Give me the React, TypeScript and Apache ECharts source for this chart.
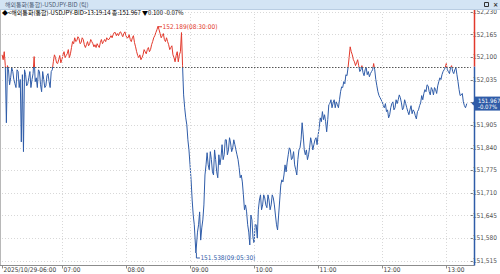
import React, { useEffect, useRef } from "react";
import * as echarts from "echarts";

const TITLE = "해외통화(통합)-USDJPY-BID (틱)";
const HEADER_MAIN = "◆<해외통화(통합)-USDJPY-BID>13:19:14 종:151.967 ";
const HEADER_CHANGE = "▼0.100 -0.07%";
const LAST_PRICE = 151.967;
const LAST_PCT = "-0.07%";
const PREV_CLOSE = 152.073;

const Y_MIN = 151.515;
const Y_MAX = 152.23;
const Y_STEP = 0.065;

const AXIS_START = "06:03:54";
const AXIS_END = "13:23:00";
const FIRST_LABEL = "2025/10/29-06:00";
const HOUR_TICKS = ["07:00", "08:00", "09:00", "10:00", "11:00", "12:00", "13:00"];

// ticks read on even minutes (plus the extremes and the last tick)
const TIMES = [
  "06:04","06:06","06:08","06:10","06:12","06:14","06:16","06:18","06:20","06:22",
  "06:24","06:26","06:28","06:30","06:32","06:34","06:36","06:38","06:40","06:42",
  "06:44","06:46","06:48","06:50","06:52","06:54","06:56","06:58","07:00","07:02",
  "07:04","07:06","07:08","07:10","07:12","07:14","07:16","07:18","07:20","07:22",
  "07:24","07:26","07:28","07:30","07:32","07:34","07:36","07:38","07:40","07:42",
  "07:44","07:46","07:48","07:50","07:52","07:54","07:56","07:58","08:00","08:02",
  "08:04","08:06","08:08","08:10","08:12","08:14","08:16","08:18","08:20","08:22",
  "08:24","08:26","08:28","08:30","08:32","08:34","08:36","08:38","08:40","08:42",
  "08:44","08:46","08:48","08:50","08:52","08:54","08:56","08:58","09:00","09:02",
  "09:04",
  "09:05:30",
  "09:08","09:10","09:12","09:14","09:16","09:18","09:20","09:22","09:24","09:26",
  "09:28","09:30","09:32","09:34","09:36","09:38","09:40","09:42","09:44","09:46",
  "09:48","09:50","09:52","09:54","09:56","09:58","10:00","10:02","10:04","10:06",
  "10:08","10:10","10:12","10:14","10:16","10:18","10:20","10:22","10:24","10:26",
  "10:28","10:30","10:32","10:34","10:36","10:38","10:40","10:42","10:44",
  "10:45",
  "10:46","10:48","10:50","10:52","10:54","10:56","10:58","11:00","11:02","11:04",
  "11:06","11:08","11:10","11:12","11:14","11:16","11:18","11:20","11:22","11:24",
  "11:26","11:28","11:30","11:32","11:34","11:36","11:38","11:40","11:42","11:44",
  "11:46","11:48","11:50","11:52","11:54","11:56","11:58","12:00","12:02","12:04",
  "12:06","12:08","12:10","12:12","12:14","12:16","12:18","12:20","12:22","12:24",
  "12:26","12:28","12:30","12:32","12:34","12:36","12:38","12:40","12:42","12:44",
  "12:46","12:48","12:50","12:52","12:54","12:56","12:58","13:00","13:02","13:04",
  "13:06","13:08","13:10","13:12","13:14","13:16","13:18",
  "13:19:14",
];

const PRICES = [
  152.107,152.116,151.912,152.064,152.041,152.059,152.024,152.064,152.013,151.857,
  151.829,152.050,152.024,152.059,152.036,152.102,152.041,152.064,152.021,152.059,
  152.013,152.047,152.030,152.059,152.087,152.099,152.082,152.105,152.093,152.116,
  152.105,152.122,152.110,152.145,152.156,152.148,152.154,152.142,152.151,152.128,
  152.145,152.139,152.145,152.130,152.128,152.133,152.142,152.139,152.151,152.156,
  152.151,152.162,152.165,152.171,152.168,152.171,152.165,152.168,152.162,152.156,
  152.151,152.156,152.142,152.116,152.099,152.093,152.107,152.116,152.122,152.116,
  152.136,152.156,152.171,152.189,152.168,152.162,152.151,152.156,152.136,152.128,
  152.107,152.087,152.116,152.107,152.171,151.992,151.926,151.863,151.791,151.690,
  151.619,
  151.538,
  151.619,151.575,151.633,151.762,151.826,151.777,151.806,151.762,151.806,151.754,
  151.791,151.849,151.820,151.863,151.834,151.854,151.840,151.849,151.820,151.783,
  151.762,151.705,151.676,151.619,151.561,151.633,151.567,151.619,151.662,151.705,
  151.676,151.696,151.668,151.690,151.676,151.696,151.647,151.604,151.690,151.748,
  151.762,151.771,151.820,151.834,151.811,151.791,151.762,151.834,151.863,
  151.912,
  151.877,151.820,151.806,151.840,151.854,151.849,151.869,151.877,151.926,151.944,
  151.935,151.886,151.964,151.978,151.969,151.955,151.964,151.978,152.015,152.030,
  152.050,152.070,152.130,152.107,152.087,152.084,152.076,152.064,152.056,152.064,
  152.050,152.044,152.059,152.082,152.036,152.001,151.984,151.972,151.955,151.944,
  151.926,151.955,151.972,151.955,151.967,151.992,151.969,151.955,151.967,151.944,
  151.949,151.938,151.944,151.923,151.949,151.969,151.978,152.007,152.021,152.001,
  152.013,151.992,152.007,152.018,152.041,152.050,152.064,152.082,152.059,152.070,
  152.059,152.064,152.050,152.007,151.992,151.972,151.955,
  151.967,
];

// ticks read on odd minutes (the other edge of the noisy band)
const MID_TIMES = [
  "06:05","06:07","06:09","06:11","06:13","06:15","06:17","06:19","06:21","06:23",
  "06:25","06:27","06:29","06:31","06:33","06:35","06:37","06:39","06:41","06:43",
  "06:45","06:47","06:49","06:51","06:53","06:55","06:57","06:59","07:01","07:03",
  "07:05","07:07","07:09","07:11","07:13","07:15","07:17","07:19","07:21","07:23",
  "07:25","07:27","07:29","07:31","07:33","07:35","07:37","07:39","07:41","07:43",
  "07:45","07:47","07:49","07:51","07:53","07:55","07:57","07:59","08:01","08:03",
  "08:05","08:07","08:09","08:11","08:13","08:15","08:17","08:19","08:21","08:23",
  "08:25","08:27","08:29","08:31","08:33","08:35","08:37","08:39","08:41","08:43",
  "08:45","08:47","08:49","08:51","08:53","08:55","08:57","08:59","09:01","09:03",
  "09:07","09:09","09:11","09:13","09:15","09:17","09:19","09:21","09:23","09:25",
  "09:27","09:29","09:31","09:33","09:35","09:37","09:39","09:41","09:43","09:45",
  "09:47","09:49","09:51","09:53","09:55","09:57","09:59","10:01","10:03","10:05",
  "10:07","10:09","10:11","10:13","10:15","10:17","10:19","10:21","10:23","10:25",
  "10:27","10:29","10:31","10:33","10:35","10:37","10:39","10:41","10:43",
  "10:47","10:49","10:51","10:53","10:55","10:57","10:59","11:01","11:03","11:05",
  "11:07","11:09","11:11","11:13","11:15","11:17","11:19","11:21","11:23","11:25",
  "11:27","11:29","11:31","11:33","11:35","11:37","11:39","11:41","11:43","11:45",
  "11:47","11:49","11:51","11:53","11:55","11:57","11:59","12:01","12:03","12:05",
  "12:07","12:09","12:11","12:13","12:15","12:17","12:19","12:21","12:23","12:25",
  "12:27","12:29","12:31","12:33","12:35","12:37","12:39","12:41","12:43","12:45",
  "12:47","12:49","12:51","12:53","12:55","12:57","12:59","13:01","13:03","13:05",
  "13:07","13:09","13:11","13:13","13:15","13:17",
];

const MID_PRICES = [
  152.093,152.076,152.076,152.021,152.070,152.036,152.013,152.059,152.036,152.050,
  152.064,152.018,152.041,152.013,152.053,152.030,152.013,152.059,152.001,152.036,
  152.018,152.053,152.013,152.064,152.107,152.084,152.093,152.084,152.107,152.099,
  152.110,152.099,152.128,152.139,152.145,152.159,152.139,152.156,152.136,152.136,
  152.133,152.151,152.139,152.136,152.139,152.128,152.151,152.145,152.145,152.151,
  152.156,152.156,152.171,152.162,152.162,152.173,152.159,152.173,152.156,152.165,
  152.145,152.162,152.130,152.105,152.107,152.099,152.122,152.110,152.128,152.122,
  152.145,152.162,152.179,152.179,152.156,152.168,152.145,152.145,152.122,152.133,
  152.099,152.105,152.087,152.116,152.076,151.955,151.906,151.834,151.748,151.647,
  151.598,151.656,151.610,151.676,151.791,151.791,151.829,151.771,151.834,151.771,
  151.820,151.811,151.806,151.863,151.820,151.869,151.829,151.863,151.834,151.806,
  151.754,151.742,151.662,151.656,151.598,151.647,151.581,151.619,151.581,151.690,
  151.662,151.705,151.676,151.705,151.662,151.705,151.676,151.619,151.647,151.733,
  151.742,151.791,151.799,151.840,151.806,151.829,151.777,151.806,151.840,
  151.834,151.834,151.820,151.869,151.834,151.863,151.849,151.898,151.915,151.921,
  151.915,151.921,151.967,151.955,151.978,151.972,151.955,152.001,152.013,152.024,
  152.047,152.099,152.116,152.093,152.076,152.093,152.059,152.076,152.047,152.070,
  152.059,152.053,152.064,152.064,152.018,151.990,151.978,151.961,151.967,151.949,
  151.935,151.967,151.949,151.978,151.978,151.984,151.949,151.978,151.955,151.935,
  151.961,151.949,151.932,151.944,151.961,151.990,151.996,152.001,152.018,151.992,
  152.007,152.013,151.996,152.030,152.036,152.059,152.070,152.064,152.053,152.076,
  152.053,152.070,152.030,151.990,151.996,151.961,
];

const RED = "#e2392c";
const BLUE = "#2f5ca8";
const NARROW = "'Liberation Sans Narrow','DejaVu Sans Condensed','Liberation Sans',sans-serif";
const KR = "'Noto Sans CJK KR','Liberation Sans Narrow',sans-serif";

const toMinutes = (s: string) => {
  const parts = s.split(":").map(Number);
  return (parts[0] - 6) * 60 + parts[1] + (parts[2] || 0) / 60;
};

export default function App() {
  const ref = useRef<HTMLDivElement>(null);
  useEffect(() => {
    if (!ref.current) return;
    const chart = echarts.init(ref.current, null, { renderer: "svg" });
    const rows = [
      ...TIMES.map((t, i) => ({ t, v: PRICES[i] })),
      ...MID_TIMES.map((t, i) => ({ t, v: MID_PRICES[i] })),
    ].sort((a, b) => toMinutes(a.t) - toMinutes(b.t));
    const data = rows.map((r) => [toMinutes(r.t), r.v]);
    let maxI = 0;
    let minI = 0;
    rows.forEach((r, i) => {
      if (r.v > rows[maxI].v) maxI = i;
      if (r.v < rows[minI].v) minI = i;
    });
    const xMin = toMinutes(AXIS_START);
    const xMax = toMinutes(AXIS_END);
    const gridTop = 12;
    const gridBottom = 13;
    const gridLeft = 2;
    const gridRight = 26;
    const withSec = (t: string) => (t.length === 5 ? t + ":00" : t);

    chart.setOption({
      animation: false,
      backgroundColor: "#ffffff",
      grid: { left: gridLeft, right: gridRight, top: gridTop, bottom: gridBottom },
      xAxis: {
        type: "value",
        min: xMin,
        max: xMax,
        axisLine: { show: false },
        axisTick: { show: false },
        axisLabel: { show: false },
        splitLine: { show: false },
      },
      yAxis: {
        type: "value",
        position: "right",
        min: Y_MIN,
        max: Y_MAX,
        interval: Y_STEP,
        axisLine: { show: false },
        axisTick: { show: true, length: 2, lineStyle: { color: "#7a7a7a" } },
        axisLabel: {
          margin: 2,
          fontSize: 6.5,
          color: "#505050",
          fontFamily: NARROW,
          formatter: (v: number) =>
            Math.abs(v - LAST_PRICE) < 0.02 ? "" : v.toFixed(3).replace(".", ","),
        },
        splitLine: { show: true, lineStyle: { color: "#d8d8d8", type: [1, 2], width: 1 } },
      },
      visualMap: {
        type: "piecewise",
        show: false,
        seriesIndex: 0,
        dimension: 1,
        pieces: [
          { gt: PREV_CLOSE, lte: Y_MAX + 1, color: RED },
          { gt: Y_MIN - 1, lte: PREV_CLOSE, color: BLUE },
        ],
      },
      series: [
        {
          type: "line",
          data,
          showSymbol: false,
          symbol: "none",
          lineStyle: { width: 1 },
          z: 3,
        },
        {
          type: "line",
          data: [],
          silent: true,
          z: 1,
          markLine: {
            silent: true,
            symbol: "none",
            label: { show: false },
            lineStyle: { color: "#d8d8d8", type: [1, 2], width: 1 },
            data: HOUR_TICKS.map((t) => ({ xAxis: toMinutes(t) })),
          },
        },
        {
          type: "line",
          data: [],
          silent: true,
          z: 4,
          markLine: {
            silent: true,
            symbol: "none",
            label: { show: false },
            lineStyle: { color: "#555555", type: [1.5, 1.5], width: 1 },
            data: [{ yAxis: PREV_CLOSE }],
          },
        },
      ],
    });

    const px = (x: number, y: number) => chart.convertToPixel({ gridIndex: 0 }, [x, y]) as number[];
    const yPrev = px(xMin, PREV_CLOSE)[1];
    const yLast = px(xMin, LAST_PRICE)[1];
    const pMax = px(data[maxI][0], data[maxI][1]);
    const pMin = px(data[minI][0], data[minI][1]);
    const axisX = 500 - gridRight + 0.5;
    const bottomY = 274 - gridBottom + 4.5;

    const xLabels: any[] = [];
    const allTicks = [{ v: xMin, label: FIRST_LABEL }, ...HOUR_TICKS.map((t) => ({ v: toMinutes(t), label: t }))];
    allTicks.forEach((tk) => {
      const x = Math.round(px(tk.v, Y_MIN)[0]) + 0.5;
      xLabels.push({ type: "line", shape: { x1: x, y1: bottomY, x2: x, y2: bottomY + 3 }, style: { stroke: "#8c8c8c", lineWidth: 1 }, z: 6 });
      xLabels.push({
        type: "text",
        x: x + 1,
        y: bottomY + 4.2,
        style: { text: tk.label, fontSize: 6.5, fontFamily: NARROW, fill: "#404040", verticalAlign: "middle" },
        z: 6,
      });
    });

    chart.setOption({
      graphic: [
        { type: "rect", shape: { x: 0, y: 0, width: 500, height: 9 }, style: { fill: "#d3e4f4" }, z: 10 },
        { type: "line", shape: { x1: 0, y1: 9.5, x2: 500, y2: 9.5 }, style: { stroke: "#b9cde2", lineWidth: 1 }, z: 10 },
        {
          type: "text",
          x: 5,
          y: 4.7,
          style: { text: TITLE, fontSize: 6, fontFamily: KR, fill: "#4c5d75", verticalAlign: "middle" },
          z: 11,
        },
        { type: "rect", shape: { x: 484.5, y: 2.5, width: 4, height: 4 }, style: { fill: "none", stroke: "#333", lineWidth: 1 }, z: 11 },
        {
          type: "text",
          x: 493,
          y: 4.7,
          style: { text: "×", fontSize: 7, fontFamily: NARROW, fill: "#333", verticalAlign: "middle", fontWeight: "bold" },
          z: 11,
        },
        {
          type: "text",
          x: 2,
          y: 12.8,
          style: {
            text: `{a|${HEADER_MAIN}}{b|${HEADER_CHANGE}}`,
            verticalAlign: "middle",
            rich: {
              a: { fontSize: 6, fontFamily: KR, color: "#333333" },
              b: { fontSize: 6, fontFamily: KR, color: BLUE },
            },
          },
          z: 11,
        },
        { type: "line", shape: { x1: 0.5, y1: 10, x2: 0.5, y2: bottomY }, style: { stroke: "#b8b8b8", lineWidth: 1 }, z: 5 },
        { type: "line", shape: { x1: 0, y1: bottomY, x2: axisX, y2: bottomY }, style: { stroke: "#8c8c8c", lineWidth: 1 }, z: 5 },
        ...xLabels,
        { type: "line", shape: { x1: axisX, y1: 10, x2: axisX, y2: yPrev }, style: { stroke: RED, lineWidth: 1.5 }, z: 9 },
        { type: "line", shape: { x1: axisX, y1: yPrev, x2: axisX, y2: bottomY }, style: { stroke: BLUE, lineWidth: 1.5 }, z: 9 },
        {
          type: "polyline",
          shape: { points: [[pMax[0], pMax[1] + 0.5], [pMax[0] + 4, pMax[1] + 0.5]] },
          style: { stroke: RED, lineWidth: 1, fill: "none" },
          z: 7,
        },
        {
          type: "text",
          x: pMax[0] + 4.5,
          y: pMax[1] + 0.5,
          style: {
            text: `${rows[maxI].v.toFixed(3)}(${withSec(rows[maxI].t)})`,
            fontSize: 6.5,
            fontFamily: NARROW,
            fill: RED,
            verticalAlign: "middle",
          },
          z: 7,
        },
        {
          type: "polyline",
          shape: { points: [[pMin[0] + 0.5, pMin[1]], [pMin[0] + 0.5, pMin[1] + 5], [pMin[0] + 4, pMin[1] + 5]] },
          style: { stroke: BLUE, lineWidth: 1, fill: "none" },
          z: 7,
        },
        {
          type: "text",
          x: pMin[0] + 4.5,
          y: pMin[1] + 5,
          style: {
            text: `${rows[minI].v.toFixed(3)}(${withSec(rows[minI].t)})`,
            fontSize: 6.5,
            fontFamily: NARROW,
            fill: BLUE,
            verticalAlign: "middle",
          },
          z: 7,
        },
        {
          type: "polygon",
          shape: { points: [[471.5, yLast], [475, yLast - 3], [475, yLast + 3]] },
          style: { fill: BLUE },
          z: 12,
        },
        { type: "rect", shape: { x: 475, y: yLast - 7, width: 25, height: 14 }, style: { fill: BLUE }, z: 12 },
        {
          type: "text",
          x: 478,
          y: yLast - 3.2,
          style: { text: LAST_PRICE.toFixed(3), fontSize: 6, fontFamily: NARROW, fill: "#ffffff", verticalAlign: "middle" },
          z: 13,
        },
        {
          type: "text",
          x: 478,
          y: yLast + 3.2,
          style: { text: LAST_PCT, fontSize: 6, fontFamily: NARROW, fill: "#ffffff", verticalAlign: "middle" },
          z: 13,
        },
      ],
    });

    return () => chart.dispose();
  }, []);
  return <div ref={ref} style={{ width: 500, height: 274, position: "absolute", left: 0, top: 0 }} />;
}
